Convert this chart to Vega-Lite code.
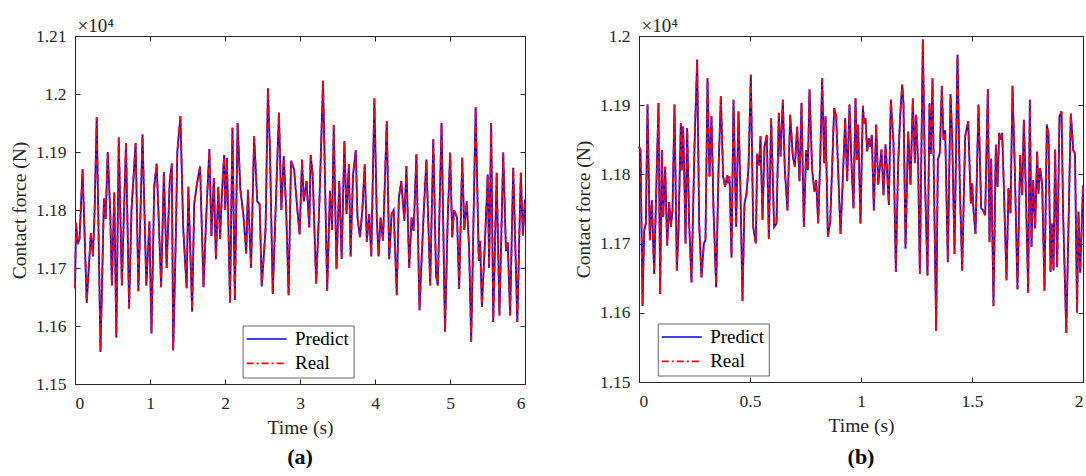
{
  "$schema": "https://vega.github.io/schema/vega-lite/v6.json",
  "background": "white",
  "padding": {"left": 8, "top": 16, "right": 0, "bottom": 0},
  "bounds": "flush",
  "spacing": 114,
  "resolve": {
    "scale": {"color": "independent", "strokeDash": "independent"},
    "legend": {"color": "independent", "strokeDash": "independent"}
  },
  "config": {
    "font": "Liberation Serif",
    "view": {"stroke": "#262626", "strokeWidth": 1},
    "axis": {
      "labelFont": "Liberation Serif", "titleFont": "Liberation Serif",
      "labelFontSize": 17.5, "titleFontSize": 19.5, "titleFontWeight": "normal",
      "labelColor": "#262626", "titleColor": "#262626",
      "grid": false, "domain": false, "tickColor": "#262626", "tickSize": -5,
      "titlePadding": 6
    },
    "axisX": {"labelPadding": 15.5},
    "axisY": {"labelPadding": 14},
    "legend": {
      "labelFont": "Liberation Serif", "labelFontSize": 19, "labelColor": "#000",
      "symbolType": "M-2.5,0L2.5,0", "symbolSize": 256, "symbolStrokeWidth": 1.6,
      "symbolOffset": 10.5, "labelOffset": 18.9, "rowPadding": 4.4, "padding": 4,
      "strokeColor": "#666", "fillColor": "white", "cornerRadius": 0
    },
    "title": {"font": "Liberation Serif", "fontSize": 22, "fontWeight": "bold", "color": "#000"}
  },
  "hconcat": [
    {
      "width": 450,
      "height": 348,
      "title": {"text": "(a)", "orient": "bottom", "offset": 10},
      "data": {"values": [
        {"t":0,"Predict":11665,"Real":11665},{"t":0.0138,"Predict":11778,"Real":11778},{"t":0.0367,"Predict":11741,"Real":11741},{"t":0.0597,"Predict":11750,"Real":11750},{"t":0.1011,"Predict":11870,"Real":11870},{"t":0.1562,"Predict":11640,"Real":11640},{"t":0.2113,"Predict":11760,"Real":11760},{"t":0.2389,"Predict":11720,"Real":11720},{"t":0.2618,"Predict":11800,"Real":11800},{"t":0.2894,"Predict":11960,"Real":11960},
        {"t":0.3399,"Predict":11555,"Real":11555},{"t":0.3859,"Predict":11820,"Real":11820},{"t":0.4088,"Predict":11785,"Real":11785},{"t":0.4364,"Predict":11900,"Real":11900},{"t":0.4685,"Predict":11800,"Real":11800},{"t":0.4915,"Predict":11670,"Real":11670},{"t":0.5237,"Predict":11830,"Real":11830},{"t":0.5512,"Predict":11580,"Real":11580},{"t":0.5834,"Predict":11925,"Real":11925},{"t":0.6247,"Predict":11670,"Real":11670},
        {"t":0.6798,"Predict":11915,"Real":11915},{"t":0.7212,"Predict":11630,"Real":11630},{"t":0.7533,"Predict":11800,"Real":11800},{"t":0.8085,"Predict":11915,"Real":11915},{"t":0.8452,"Predict":11660,"Real":11660},{"t":0.9003,"Predict":11930,"Real":11930},{"t":0.9509,"Predict":11670,"Real":11670},{"t":0.9922,"Predict":11780,"Real":11780},{"t":1.0198,"Predict":11587,"Real":11587},{"t":1.0565,"Predict":11840,"Real":11840},
        {"t":1.0887,"Predict":11880,"Real":11880},{"t":1.1116,"Predict":11800,"Real":11800},{"t":1.1484,"Predict":11667,"Real":11667},{"t":1.1851,"Predict":11865,"Real":11865},{"t":1.2219,"Predict":11700,"Real":11700},{"t":1.2632,"Predict":11850,"Real":11850},{"t":1.2908,"Predict":11880,"Real":11880},{"t":1.3092,"Predict":11558,"Real":11558},{"t":1.3413,"Predict":11735,"Real":11735},{"t":1.3643,"Predict":11900,"Real":11900},
        {"t":1.4056,"Predict":11962,"Real":11962},{"t":1.4424,"Predict":11770,"Real":11770},{"t":1.4883,"Predict":11665,"Real":11665},{"t":1.5113,"Predict":11840,"Real":11840},{"t":1.5618,"Predict":11625,"Real":11625},{"t":1.5894,"Predict":11810,"Real":11810},{"t":1.6261,"Predict":11845,"Real":11845},{"t":1.6675,"Predict":11875,"Real":11875},{"t":1.7134,"Predict":11667,"Real":11667},{"t":1.7501,"Predict":11790,"Real":11790},
        {"t":1.7915,"Predict":11905,"Real":11905},{"t":1.819,"Predict":11755,"Real":11755},{"t":1.8512,"Predict":11855,"Real":11855},{"t":1.8787,"Predict":11715,"Real":11715},{"t":1.9109,"Predict":11840,"Real":11840},{"t":1.9339,"Predict":11750,"Real":11750},{"t":1.9614,"Predict":11835,"Real":11835},{"t":1.989,"Predict":11895,"Real":11895},{"t":2.0028,"Predict":11800,"Real":11800},{"t":2.0257,"Predict":11890,"Real":11890},
        {"t":2.0671,"Predict":11640,"Real":11640},{"t":2.0992,"Predict":11942,"Real":11942},{"t":2.1314,"Predict":11645,"Real":11645},{"t":2.1681,"Predict":11950,"Real":11950},{"t":2.2049,"Predict":11835,"Real":11835},{"t":2.2462,"Predict":11790,"Real":11790},{"t":2.283,"Predict":11725,"Real":11725},{"t":2.3059,"Predict":11835,"Real":11835},{"t":2.3473,"Predict":11700,"Real":11700},{"t":2.3886,"Predict":11927,"Real":11927},
        {"t":2.43,"Predict":11815,"Real":11815},{"t":2.4621,"Predict":11810,"Real":11810},{"t":2.4897,"Predict":11668,"Real":11668},{"t":2.5402,"Predict":11765,"Real":11765},{"t":2.5724,"Predict":12010,"Real":12010},{"t":2.5999,"Predict":11900,"Real":11900},{"t":2.6367,"Predict":11655,"Real":11655},{"t":2.6826,"Predict":11830,"Real":11830},{"t":2.7194,"Predict":11968,"Real":11968},{"t":2.7515,"Predict":11800,"Real":11800},
        {"t":2.7837,"Predict":11893,"Real":11893},{"t":2.8158,"Predict":11800,"Real":11800},{"t":2.848,"Predict":11653,"Real":11653},{"t":2.8801,"Predict":11885,"Real":11885},{"t":2.9214,"Predict":11870,"Real":11870},{"t":2.9582,"Predict":11810,"Real":11810},{"t":2.9949,"Predict":11758,"Real":11758},{"t":3.0271,"Predict":11887,"Real":11887},{"t":3.0501,"Predict":11815,"Real":11815},{"t":3.0868,"Predict":11850,"Real":11850},
        {"t":3.1236,"Predict":11770,"Real":11770},{"t":3.142,"Predict":11895,"Real":11895},{"t":3.1695,"Predict":11860,"Real":11860},{"t":3.2155,"Predict":11673,"Real":11673},{"t":3.2568,"Predict":11805,"Real":11805},{"t":3.3073,"Predict":12023,"Real":12023},{"t":3.3624,"Predict":11661,"Real":11661},{"t":3.3992,"Predict":11833,"Real":11833},{"t":3.4267,"Predict":11766,"Real":11766},{"t":3.4497,"Predict":11946,"Real":11946},
        {"t":3.4864,"Predict":11698,"Real":11698},{"t":3.5232,"Predict":11850,"Real":11850},{"t":3.5554,"Predict":11716,"Real":11716},{"t":3.5921,"Predict":11919,"Real":11919},{"t":3.6197,"Predict":11793,"Real":11793},{"t":3.6518,"Predict":11879,"Real":11879},{"t":3.6748,"Predict":11720,"Real":11720},{"t":3.707,"Predict":11860,"Real":11860},{"t":3.7437,"Predict":11903,"Real":11903},{"t":3.7667,"Predict":11787,"Real":11787},
        {"t":3.7988,"Predict":11753,"Real":11753},{"t":3.831,"Predict":11799,"Real":11799},{"t":3.8631,"Predict":11879,"Real":11879},{"t":3.8907,"Predict":11745,"Real":11745},{"t":3.9228,"Predict":11793,"Real":11793},{"t":3.9504,"Predict":11720,"Real":11720},{"t":3.9917,"Predict":11992,"Real":11992},{"t":4.0239,"Predict":11787,"Real":11787},{"t":4.0469,"Predict":11720,"Real":11720},{"t":4.0744,"Predict":11787,"Real":11787},
        {"t":4.1066,"Predict":11747,"Real":11747},{"t":4.1571,"Predict":11953,"Real":11953},{"t":4.1893,"Predict":11715,"Real":11715},{"t":4.2214,"Predict":11793,"Real":11793},{"t":4.249,"Predict":11800,"Real":11800},{"t":4.2903,"Predict":11653,"Real":11653},{"t":4.3179,"Predict":11821,"Real":11821},{"t":4.35,"Predict":11850,"Real":11850},{"t":4.3914,"Predict":11781,"Real":11781},{"t":4.4189,"Predict":11876,"Real":11876},
        {"t":4.4557,"Predict":11700,"Real":11700},{"t":4.4879,"Predict":11787,"Real":11787},{"t":4.5154,"Predict":11764,"Real":11764},{"t":4.5521,"Predict":11896,"Real":11896},{"t":4.5935,"Predict":11627,"Real":11627},{"t":4.6165,"Predict":11700,"Real":11700},{"t":4.6486,"Predict":11793,"Real":11793},{"t":4.6854,"Predict":11887,"Real":11887},{"t":4.7359,"Predict":11670,"Real":11670},{"t":4.7772,"Predict":11922,"Real":11922},
        {"t":4.814,"Predict":11687,"Real":11687},{"t":4.8369,"Predict":11670,"Real":11670},{"t":4.8875,"Predict":11950,"Real":11950},{"t":4.9334,"Predict":11590,"Real":11590},{"t":4.9701,"Predict":11787,"Real":11787},{"t":5.0023,"Predict":11899,"Real":11899},{"t":5.0299,"Predict":11753,"Real":11753},{"t":5.0528,"Predict":11800,"Real":11800},{"t":5.0941,"Predict":11787,"Real":11787},{"t":5.1217,"Predict":11664,"Real":11664},
        {"t":5.1631,"Predict":11890,"Real":11890},{"t":5.1906,"Predict":11766,"Real":11766},{"t":5.2228,"Predict":11815,"Real":11815},{"t":5.2549,"Predict":11735,"Real":11735},{"t":5.2825,"Predict":11573,"Real":11573},{"t":5.3422,"Predict":11977,"Real":11977},{"t":5.3835,"Predict":11712,"Real":11712},{"t":5.4019,"Predict":11747,"Real":11747},{"t":5.4249,"Predict":11633,"Real":11633},{"t":5.4616,"Predict":11732,"Real":11732},
        {"t":5.503,"Predict":11861,"Real":11861},{"t":5.5214,"Predict":11700,"Real":11700},{"t":5.5489,"Predict":11950,"Real":11950},{"t":5.5765,"Predict":11607,"Real":11607},{"t":5.6224,"Predict":11864,"Real":11864},{"t":5.6592,"Predict":11618,"Real":11618},{"t":5.7097,"Predict":11899,"Real":11899},{"t":5.7464,"Predict":11729,"Real":11729},{"t":5.7694,"Predict":11744,"Real":11744},{"t":5.8016,"Predict":11618,"Real":11618},
        {"t":5.8429,"Predict":11873,"Real":11873},{"t":5.898,"Predict":11607,"Real":11607},{"t":5.944,"Predict":11864,"Real":11864},{"t":5.9715,"Predict":11756,"Real":11756},{"t":6.0,"Predict":11818,"Real":11818}
      ]},
      "layer": [
        {
          "transform": [{"fold": ["Predict", "Real"], "as": ["series", "force"]}],
          "mark": {"type": "line", "strokeWidth": 1.8},
          "encoding": {
            "x": {"field": "t", "type": "quantitative", "scale": {"domain": [0, 6], "nice": false}, "axis": {"title": "Time (s)", "values": [0,1,2,3,4,5,6], "format": "~g"}},
            "y": {"field": "force", "type": "quantitative", "scale": {"domain": [11500, 12100], "nice": false, "zero": false}, "axis": {"title": "Contact force (N)", "values": [11500,11600,11700,11800,11900,12000,12100], "labelExpr": "format(datum.value/10000, '~g')"}},
            "color": {"field": "series", "type": "nominal", "scale": {"domain": ["Predict", "Real"], "range": ["#0000ff", "#ff0000"]}, "legend": {"title": null, "orient": "none", "legendX": 167.6, "legendY": 289.5}},
            "strokeDash": {"field": "series", "type": "nominal", "scale": {"domain": ["Predict", "Real"], "range": [[1, 0], [7, 3, 2, 3]]}, "legend": {"title": null, "orient": "none", "legendX": 167.6, "legendY": 289.5}}
          }
        },
        {
          "data": {"values": [{"label": "×10⁴"}]},
          "mark": {"type": "text", "align": "left", "baseline": "alphabetic", "dx": 2.5, "dy": -4, "fontSize": 19, "font": "Liberation Serif", "color": "#262626"},
          "encoding": {
            "text": {"field": "label"},
            "x": {"datum": 0, "type": "quantitative", "axis": {"orient": "top", "labels": false, "title": null, "values": [0,1,2,3,4,5,6]}},
            "y": {"datum": 12100, "type": "quantitative", "axis": {"orient": "right", "labels": false, "title": null, "values": [11500,11600,11700,11800,11900,12000,12100]}}
          }
        }
      ],
      "resolve": {"axis": {"x": "independent", "y": "independent"}}
    },
    {
      "width": 444,
      "height": 346,
      "title": {"text": "(b)", "orient": "bottom", "offset": 12},
      "data": {"values": [
        {"t":0,"Predict":11840,"Real":11840},{"t":0.0068,"Predict":11835,"Real":11835},{"t":0.0158,"Predict":11610,"Real":11610},{"t":0.0233,"Predict":11719,"Real":11719},{"t":0.0308,"Predict":11729,"Real":11729},{"t":0.0383,"Predict":11901,"Real":11901},{"t":0.0488,"Predict":11705,"Real":11705},{"t":0.0578,"Predict":11763,"Real":11763},{"t":0.0683,"Predict":11656,"Real":11656},{"t":0.0758,"Predict":11753,"Real":11753},
        {"t":0.0878,"Predict":11903,"Real":11903},{"t":0.0953,"Predict":11627,"Real":11627},{"t":0.1029,"Predict":11835,"Real":11835},{"t":0.1089,"Predict":11738,"Real":11738},{"t":0.1179,"Predict":11811,"Real":11811},{"t":0.1269,"Predict":11697,"Real":11697},{"t":0.1359,"Predict":11760,"Real":11760},{"t":0.1434,"Predict":11724,"Real":11724},{"t":0.1509,"Predict":11748,"Real":11748},{"t":0.1599,"Predict":11901,"Real":11901},
        {"t":0.1704,"Predict":11661,"Real":11661},{"t":0.1779,"Predict":11719,"Real":11719},{"t":0.1884,"Predict":11874,"Real":11874},{"t":0.1929,"Predict":11806,"Real":11806},{"t":0.1989,"Predict":11869,"Real":11869},{"t":0.2035,"Predict":11806,"Real":11806},{"t":0.2095,"Predict":11700,"Real":11700},{"t":0.217,"Predict":11867,"Real":11867},{"t":0.226,"Predict":11729,"Real":11729},{"t":0.2365,"Predict":11644,"Real":11644},
        {"t":0.25,"Predict":11840,"Real":11840},{"t":0.262,"Predict":11966,"Real":11966},{"t":0.271,"Predict":11729,"Real":11729},{"t":0.2815,"Predict":11651,"Real":11651},{"t":0.292,"Predict":11700,"Real":11700},{"t":0.2995,"Predict":11705,"Real":11705},{"t":0.3086,"Predict":11939,"Real":11939},{"t":0.3176,"Predict":11797,"Real":11797},{"t":0.3266,"Predict":11884,"Real":11884},{"t":0.3356,"Predict":11748,"Real":11748},
        {"t":0.3476,"Predict":11637,"Real":11637},{"t":0.3581,"Predict":11806,"Real":11806},{"t":0.3686,"Predict":11913,"Real":11913},{"t":0.3791,"Predict":11797,"Real":11797},{"t":0.3881,"Predict":11782,"Real":11782},{"t":0.3971,"Predict":11799,"Real":11799},{"t":0.4016,"Predict":11787,"Real":11787},{"t":0.4077,"Predict":11797,"Real":11797},{"t":0.4167,"Predict":11680,"Real":11680},{"t":0.4257,"Predict":11908,"Real":11908},
        {"t":0.4377,"Predict":11724,"Real":11724},{"t":0.4482,"Predict":11891,"Real":11891},{"t":0.4572,"Predict":11772,"Real":11772},{"t":0.4662,"Predict":11617,"Real":11617},{"t":0.4752,"Predict":11758,"Real":11758},{"t":0.4842,"Predict":11772,"Real":11772},{"t":0.4932,"Predict":11809,"Real":11809},{"t":0.5038,"Predict":11944,"Real":11944},{"t":0.5143,"Predict":11724,"Real":11724},{"t":0.5263,"Predict":11700,"Real":11700},
        {"t":0.5323,"Predict":11830,"Real":11830},{"t":0.5413,"Predict":11813,"Real":11813},{"t":0.5473,"Predict":11855,"Real":11855},{"t":0.5563,"Predict":11734,"Real":11734},{"t":0.5653,"Predict":11840,"Real":11840},{"t":0.5758,"Predict":11857,"Real":11857},{"t":0.5848,"Predict":11707,"Real":11707},{"t":0.5953,"Predict":11881,"Real":11881},{"t":0.6088,"Predict":11724,"Real":11724},{"t":0.6194,"Predict":11729,"Real":11729},
        {"t":0.6299,"Predict":11889,"Real":11889},{"t":0.6374,"Predict":11826,"Real":11826},{"t":0.6479,"Predict":11908,"Real":11908},{"t":0.6569,"Predict":11806,"Real":11806},{"t":0.6689,"Predict":11748,"Real":11748},{"t":0.6809,"Predict":11886,"Real":11886},{"t":0.6929,"Predict":11826,"Real":11826},{"t":0.702,"Predict":11811,"Real":11811},{"t":0.7125,"Predict":11869,"Real":11869},{"t":0.723,"Predict":11790,"Real":11790},
        {"t":0.732,"Predict":11903,"Real":11903},{"t":0.7425,"Predict":11724,"Real":11724},{"t":0.753,"Predict":11835,"Real":11835},{"t":0.7605,"Predict":11806,"Real":11806},{"t":0.768,"Predict":11923,"Real":11923},{"t":0.78,"Predict":11806,"Real":11806},{"t":0.7905,"Predict":11775,"Real":11775},{"t":0.798,"Predict":11792,"Real":11792},{"t":0.8071,"Predict":11729,"Real":11729},{"t":0.8161,"Predict":11820,"Real":11820},
        {"t":0.8251,"Predict":11939,"Real":11939},{"t":0.8341,"Predict":11816,"Real":11816},{"t":0.8401,"Predict":11884,"Real":11884},{"t":0.8506,"Predict":11710,"Real":11710},{"t":0.8611,"Predict":11731,"Real":11731},{"t":0.8701,"Predict":11811,"Real":11811},{"t":0.8791,"Predict":11896,"Real":11896},{"t":0.8881,"Predict":11884,"Real":11884},{"t":0.8971,"Predict":11806,"Real":11806},{"t":0.9077,"Predict":11714,"Real":11714},
        {"t":0.9167,"Predict":11782,"Real":11782},{"t":0.9287,"Predict":11881,"Real":11881},{"t":0.9377,"Predict":11790,"Real":11790},{"t":0.9482,"Predict":11901,"Real":11901},{"t":0.9572,"Predict":11816,"Real":11816},{"t":0.9662,"Predict":11751,"Real":11751},{"t":0.9752,"Predict":11910,"Real":11910},{"t":0.9812,"Predict":11821,"Real":11821},{"t":0.9872,"Predict":11872,"Real":11872},{"t":0.9977,"Predict":11729,"Real":11729},
        {"t":1.0083,"Predict":11899,"Real":11899},{"t":1.0143,"Predict":11874,"Real":11874},{"t":1.0203,"Predict":11881,"Real":11881},{"t":1.0278,"Predict":11833,"Real":11833},{"t":1.0353,"Predict":11852,"Real":11852},{"t":1.0413,"Predict":11840,"Real":11840},{"t":1.0488,"Predict":11857,"Real":11857},{"t":1.0578,"Predict":11748,"Real":11748},{"t":1.0683,"Predict":11872,"Real":11872},{"t":1.0773,"Predict":11785,"Real":11785},
        {"t":1.0923,"Predict":11836,"Real":11836},{"t":1.1014,"Predict":11770,"Real":11770},{"t":1.1104,"Predict":11843,"Real":11843},{"t":1.1164,"Predict":11811,"Real":11811},{"t":1.1254,"Predict":11756,"Real":11756},{"t":1.1344,"Predict":11908,"Real":11908},{"t":1.1464,"Predict":11845,"Real":11845},{"t":1.1569,"Predict":11659,"Real":11659},{"t":1.1674,"Predict":11816,"Real":11816},{"t":1.1764,"Predict":11884,"Real":11884},
        {"t":1.1854,"Predict":11930,"Real":11930},{"t":1.1914,"Predict":11903,"Real":11903},{"t":1.2005,"Predict":11693,"Real":11693},{"t":1.2125,"Predict":11862,"Real":11862},{"t":1.223,"Predict":11785,"Real":11785},{"t":1.2335,"Predict":11910,"Real":11910},{"t":1.2425,"Predict":11816,"Real":11816},{"t":1.2485,"Predict":11886,"Real":11886},{"t":1.2575,"Predict":11811,"Real":11811},{"t":1.265,"Predict":11656,"Real":11656},
        {"t":1.2785,"Predict":11995,"Real":11995},{"t":1.289,"Predict":11782,"Real":11782},{"t":1.2995,"Predict":11654,"Real":11654},{"t":1.3086,"Predict":11903,"Real":11903},{"t":1.3146,"Predict":11830,"Real":11830},{"t":1.3221,"Predict":11939,"Real":11939},{"t":1.3296,"Predict":11767,"Real":11767},{"t":1.3386,"Predict":11574,"Real":11574},{"t":1.3461,"Predict":11821,"Real":11821},{"t":1.3551,"Predict":11831,"Real":11831},
        {"t":1.3641,"Predict":11928,"Real":11928},{"t":1.3716,"Predict":11850,"Real":11850},{"t":1.3791,"Predict":11864,"Real":11864},{"t":1.3911,"Predict":11673,"Real":11673},{"t":1.4032,"Predict":11916,"Real":11916},{"t":1.4107,"Predict":11855,"Real":11855},{"t":1.4212,"Predict":11685,"Real":11685},{"t":1.4347,"Predict":11973,"Real":11973},{"t":1.4452,"Predict":11782,"Real":11782},{"t":1.4557,"Predict":11661,"Real":11661},
        {"t":1.4692,"Predict":11855,"Real":11855},{"t":1.4827,"Predict":11877,"Real":11877},{"t":1.4947,"Predict":11758,"Real":11758},{"t":1.5008,"Predict":11787,"Real":11787},{"t":1.5068,"Predict":11748,"Real":11748},{"t":1.5158,"Predict":11714,"Real":11714},{"t":1.5293,"Predict":11901,"Real":11901},{"t":1.5413,"Predict":11751,"Real":11751},{"t":1.5503,"Predict":11748,"Real":11748},{"t":1.5593,"Predict":11741,"Real":11741},
        {"t":1.5713,"Predict":11923,"Real":11923},{"t":1.5788,"Predict":11702,"Real":11702},{"t":1.5863,"Predict":11823,"Real":11823},{"t":1.5968,"Predict":11610,"Real":11610},{"t":1.6074,"Predict":11843,"Real":11843},{"t":1.6149,"Predict":11782,"Real":11782},{"t":1.6224,"Predict":11860,"Real":11860},{"t":1.6299,"Predict":11850,"Real":11850},{"t":1.6359,"Predict":11860,"Real":11860},{"t":1.6434,"Predict":11782,"Real":11782},
        {"t":1.6554,"Predict":11647,"Real":11647},{"t":1.6644,"Predict":11780,"Real":11780},{"t":1.6734,"Predict":11744,"Real":11744},{"t":1.6824,"Predict":11928,"Real":11928},{"t":1.6929,"Predict":11806,"Real":11806},{"t":1.7049,"Predict":11634,"Real":11634},{"t":1.717,"Predict":11828,"Real":11828},{"t":1.726,"Predict":11770,"Real":11770},{"t":1.7335,"Predict":11879,"Real":11879},{"t":1.7425,"Predict":11777,"Real":11777},
        {"t":1.753,"Predict":11629,"Real":11629},{"t":1.7605,"Predict":11908,"Real":11908},{"t":1.768,"Predict":11695,"Real":11695},{"t":1.7755,"Predict":11792,"Real":11792},{"t":1.7845,"Predict":11722,"Real":11722},{"t":1.7935,"Predict":11833,"Real":11833},{"t":1.7995,"Predict":11772,"Real":11772},{"t":1.8071,"Predict":11809,"Real":11809},{"t":1.8161,"Predict":11785,"Real":11785},{"t":1.8266,"Predict":11632,"Real":11632},
        {"t":1.8371,"Predict":11872,"Real":11872},{"t":1.8446,"Predict":11857,"Real":11857},{"t":1.8536,"Predict":11659,"Real":11659},{"t":1.8611,"Predict":11729,"Real":11729},{"t":1.8671,"Predict":11661,"Real":11661},{"t":1.8746,"Predict":11836,"Real":11836},{"t":1.8836,"Predict":11666,"Real":11666},{"t":1.8941,"Predict":11884,"Real":11884},{"t":1.9032,"Predict":11891,"Real":11891},{"t":1.9107,"Predict":11739,"Real":11739},
        {"t":1.9247,"Predict":11571,"Real":11571},{"t":1.9451,"Predict":11888,"Real":11888},{"t":1.9561,"Predict":11835,"Real":11835},{"t":1.964,"Predict":11830,"Real":11830},{"t":1.9733,"Predict":11600,"Real":11600},{"t":1.9796,"Predict":11746,"Real":11746},{"t":1.9875,"Predict":11658,"Real":11658},{"t":2.0,"Predict":11784,"Real":11784}
      ]},
      "layer": [
        {
          "transform": [{"fold": ["Predict", "Real"], "as": ["series", "force"]}],
          "mark": {"type": "line", "strokeWidth": 1.8},
          "encoding": {
            "x": {"field": "t", "type": "quantitative", "scale": {"domain": [0, 2], "nice": false}, "axis": {"title": "Time (s)", "values": [0,0.5,1,1.5,2], "format": "~g"}},
            "y": {"field": "force", "type": "quantitative", "scale": {"domain": [11500, 12000], "nice": false, "zero": false}, "axis": {"title": "Contact force (N)", "values": [11500,11600,11700,11800,11900,12000], "labelExpr": "format(datum.value/10000, '~g')"}},
            "color": {"field": "series", "type": "nominal", "scale": {"domain": ["Predict", "Real"], "range": ["#0000ff", "#ff0000"]}, "legend": {"title": null, "orient": "none", "legendX": 18.8, "legendY": 287.5}},
            "strokeDash": {"field": "series", "type": "nominal", "scale": {"domain": ["Predict", "Real"], "range": [[1, 0], [7, 3, 2, 3]]}, "legend": {"title": null, "orient": "none", "legendX": 18.8, "legendY": 287.5}}
          }
        },
        {
          "data": {"values": [{"label": "×10⁴"}]},
          "mark": {"type": "text", "align": "left", "baseline": "alphabetic", "dx": 2.5, "dy": -4, "fontSize": 19, "font": "Liberation Serif", "color": "#262626"},
          "encoding": {
            "text": {"field": "label"},
            "x": {"datum": 0, "type": "quantitative", "axis": {"orient": "top", "labels": false, "title": null, "values": [0,0.5,1,1.5,2]}},
            "y": {"datum": 12000, "type": "quantitative", "axis": {"orient": "right", "labels": false, "title": null, "values": [11500,11600,11700,11800,11900,12000]}}
          }
        }
      ],
      "resolve": {"axis": {"x": "independent", "y": "independent"}}
    }
  ]
}
